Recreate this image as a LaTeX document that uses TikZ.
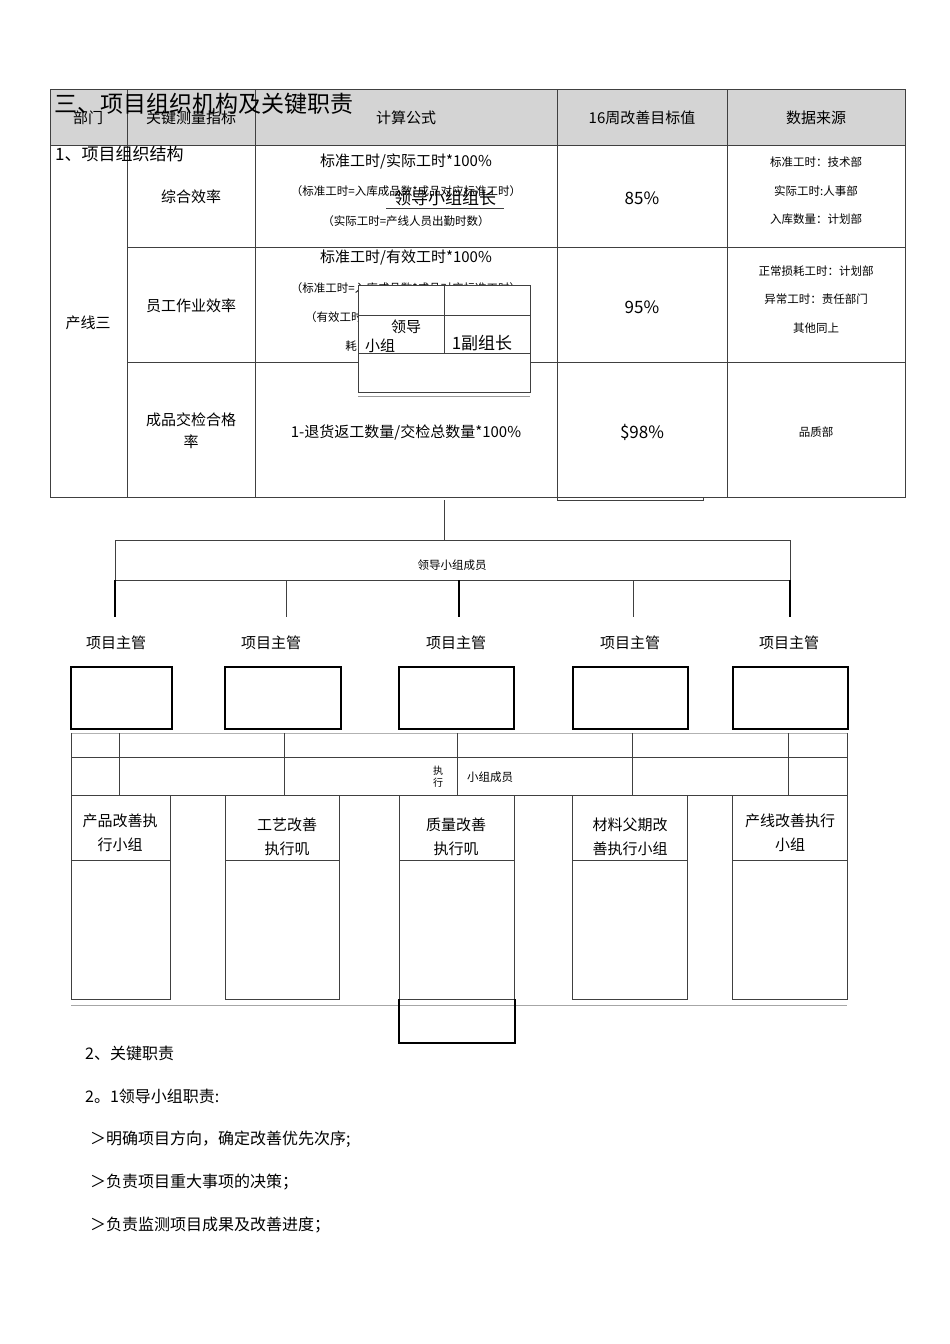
\documentclass[tikz,border=0pt]{standalone}
\usepackage{fontspec}
\setmainfont{Noto Sans CJK SC}
\begin{document}
\begin{tikzpicture}[x=1pt,y=-1pt,
  ln/.style={draw=black!75,line width=0.6pt},
  thk/.style={draw=black,line width=1.1pt},
  t/.style={font=\fontsize{15}{17}\selectfont,inner sep=0pt},
  ts/.style={font=\fontsize{11.5}{13}\selectfont,inner sep=0pt},
  tb/.style={font=\fontsize{17}{19}\selectfont,inner sep=0pt}]
\useasboundingbox (0,0) rectangle (950,1344);
% table
\fill[black!17] (50,89) rectangle (905,145);
\draw[ln] (50,89) rectangle (905,497);
\foreach \x in {127,255,557,727} \draw[ln] (\x,89) -- (\x,497);
\draw[ln] (50,145) -- (905,145);
\foreach \y in {247,362} \draw[ln] (127,\y) -- (905,\y);
\node[t] (h1) at (88,118) {部门};
\node[t] (h2) at (191,118) {关键测量指标};
\node[t] (h3) at (406,118) {计算公式};
\node[t] (h4) at (642,118) {16周改善目标值};
\node[t] (h5) at (816,118) {数据来源};
\node[t] (d) at (88,323) {产线三};
\node[t] (k1) at (191,197) {综合效率};
\node[t] (k2) at (191,306) {员工作业效率};
\node[t,align=center] (k3) at (191,431) {成品交检合格\\[5pt]率};
\node[t] (f1) at (406,161) {标准工时/实际工时*100\%};
\node[ts] (f2) at (406,191) {（标准工时=入库成品数*成品对应标准工时）};
\node[ts] (f3) at (406,221) {（实际工时=产线人员出勤时数）};
\node[t] (f4) at (406,258) {标准工时/有效工时*100\%};
\node[ts] (f5) at (406,288) {（标准工时=入库成品数*成品对应标准工时）};
\node[ts] (f6) at (408,317) {（有效工时=产线人员出勤时数-非正常损};
\node[ts] (f7) at (351,346) {耗};
\node[t] (f8) at (406,432) {1-退货返工数量/交检总数量*100\%};
\node[tb] (v1) at (642,198) {85\%};
\node[tb] (v2) at (642,307) {95\%};
\node[tb] (v3) at (642,432) {\$98\%};
\node[ts] (s1) at (816,162) {标准工时：技术部};
\node[ts] (s2) at (816,191) {实际工时:人事部};
\node[ts] (s3) at (816,219) {入库数量：计划部};
\node[ts] (s4) at (816,271) {正常损耗工时：计划部};
\node[ts] (s5) at (816,299) {异常工时：责任部门};
\node[ts] (s6) at (816,328) {其他同上};
\node[ts] (s7) at (816,432) {品质部};
% overlay box
\fill[white] (358,285) rectangle (530,392);
\draw[ln] (358,285) rectangle (530,392);
\draw[ln] (358,315) -- (530,315);
\draw[ln] (358,353) -- (530,353);
\draw[ln] (444,285) -- (444,353);
\draw[black!40] (358,396) -- (530,396);
\node[t] (lg) at (406,327) {领导};
\node[t] (xz) at (380,346) {小组};
\node[tb] (fz) at (482,343) {1副组长};
\node[tb] (zz) at (445,198) {领导小组组长};
\draw[ln] (386,208) -- (504,208);
\draw[ln] (557,497) -- (557,500) -- (703,500) -- (703,497);
% titles
\node[font=\fontsize{23}{25}\selectfont,inner sep=0pt,anchor=west] (title) at (54,104) {三、项目组织机构及关键职责};
\node[font=\fontsize{17}{19}\selectfont,inner sep=0pt,anchor=west] (sub) at (55,154) {1、项目组织结构};
% leaders
\draw[ln] (444,500) -- (444,540);
\draw[ln] (115,540) rectangle (790,580);
\node[ts] (lm) at (452,565) {领导小组成员};
\foreach \x in {115,459,790} \draw[thk] (\x,580) -- (\x,617);
\foreach \x in {286,633} \draw[ln] (\x,580) -- (\x,617);
\foreach \x in {116,271,456,630,789} \node[t] at (\x,643) {项目主管};
\foreach \a/\b in {71/172,225/341,399/514,573/688,733/848} \draw[thk] (\a,667) rectangle (\b,729);
% grid
\draw[black!30] (71,733) -- (847,733);
\draw[ln] (71,757) -- (847,757);
\draw[ln] (71,733) -- (71,795) (847,733) -- (847,795) (71,795) -- (847,795);
\foreach \x in {119,284,457,632,788} \draw[ln] (\x,733) -- (\x,795);
\node[align=center,inner sep=0pt,font=\fontsize{10}{12}\selectfont] (zx) at (438,777) {执\\行};
\node[ts] (xm) at (490,777) {小组成员};
% execution boxes
\foreach \a/\b in {71/170,225/339,399/514,572/687,732/847} {
  \draw[ln] (\a,795) rectangle (\b,999);
  \draw[ln] (\a,860) -- (\b,860);}
\draw[black!35] (71,1005) -- (847,1005);
\node[t,align=center] (g1) at (120,833) {产品改善执\\[7pt]行小组};
\node[t,align=center] (g2) at (287,837) {工艺改善\\[7pt]执行叽};
\node[t,align=center] (g3) at (456,837) {质量改善\\[7pt]执行叽};
\node[t,align=center] (g4) at (630,837) {材料父期改\\[7pt]善执行小组};
\node[t,align=center] (g5) at (790,833) {产线改善执行\\[7pt]小组};
\draw[thk] (399,999) -- (399,1043) -- (515,1043) -- (515,999);
% text
\node[font=\fontsize{16}{18}\selectfont,inner sep=0pt,anchor=west] (p1) at (85,1053) {2、关键职责};
\node[font=\fontsize{16}{18}\selectfont,inner sep=0pt,anchor=west] (p2) at (85,1096) {2。1领导小组职责:};
\node[font=\fontsize{16}{18}\selectfont,inner sep=0pt,anchor=west] (p3) at (90,1139) {＞明确项目方向，确定改善优先次序;};
\node[font=\fontsize{16}{18}\selectfont,inner sep=0pt,anchor=west] (p4) at (90,1182) {＞负责项目重大事项的决策；};
\node[font=\fontsize{16}{18}\selectfont,inner sep=0pt,anchor=west] (p5) at (90,1225) {＞负责监测项目成果及改善进度；};
\end{tikzpicture}
\end{document}
